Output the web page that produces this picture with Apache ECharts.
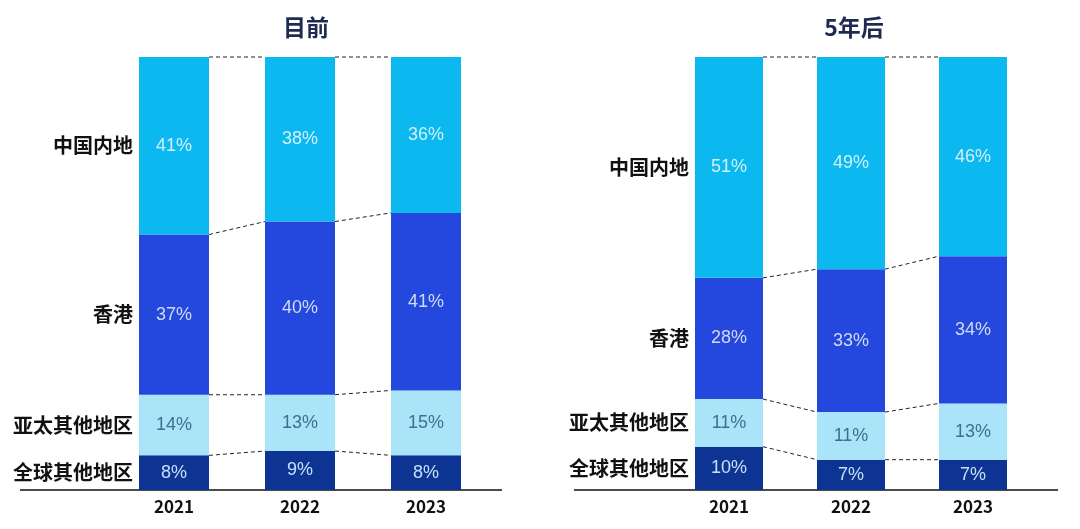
<!DOCTYPE html>
<html>
<head>
<meta charset="utf-8">
<script src="https://cdn.jsdelivr.net/npm/echarts@6/dist/echarts.min.js"></script>
<style>
html,body{margin:0;padding:0;background:#fff;}
#c{width:1080px;height:529px;}
</style>
</head>
<body>
<div id="c"></div>
<script>
// ---- data ----
const years = ['2021', '2022', '2023'];
const regions = ['全球其他地区', '亚太其他地区', '香港', '中国内地']; // bottom -> top
const nowGlobal = [8, 9, 8];
const nowAPAC = [14, 13, 15];
const nowHK = [37, 40, 41];
const nowMainland = [41, 38, 36];
const futGlobal = [10, 7, 7];
const futAPAC = [11, 11, 13];
const futHK = [28, 33, 34];
const futMainland = [51, 49, 46];
const titles = ['目前', '5年后'];

const colors = ['#0d3393', '#a9e4f8', '#2447dd', '#0bb8ef'];
const labelColors = ['#c6e0f8', '#3f6f92', '#cfdcf7', '#d2f0fc'];
const FONT = '"Noto Sans CJK SC", "Noto Sans", sans-serif';

const charts = [
  { vals: [nowGlobal, nowAPAC, nowHK, nowMainland], left: 111, width: 378, bw: 70, title: titles[0], titleX: 301, axisFrom: 20, axisTo: 502 },
  { vals: [futGlobal, futAPAC, futHK, futMainland], left: 668, width: 366, bw: 68, title: titles[1], titleX: 849, axisFrom: 574, axisTo: 1058 }
];

const chart = echarts.init(document.getElementById('c'));
const option = {
  animation: false,
  title: [], grid: [], xAxis: [], yAxis: [], series: [], graphic: []
};

charts.forEach((c, g) => {
  option.title.push({
    text: c.title, left: c.titleX, top: 11, textAlign: 'center',
    textStyle: { fontFamily: FONT, fontSize: 23, fontWeight: 'bold', color: '#1c2b4f' }
  });
  option.grid.push({ left: c.left, width: c.width, top: 57, bottom: 39 });
  option.xAxis.push({
    type: 'category', gridIndex: g, data: years,
    axisLine: { show: false }, axisTick: { show: false },
    axisLabel: { margin: 8, fontFamily: FONT, fontSize: 17, fontWeight: 'bold', color: '#111' }
  });
  option.yAxis.push({ type: 'value', gridIndex: g, min: 0, max: 100, show: false, splitLine: { show: false } });

  c.vals.forEach((arr, k) => {
    option.series.push({
      type: 'bar', name: regions[k], xAxisIndex: g, yAxisIndex: g, stack: 's' + g,
      barWidth: c.bw, data: arr,
      itemStyle: { color: colors[k] },
      label: {
        show: true, position: 'inside', formatter: '{c}%',
        fontFamily: '"Liberation Sans", sans-serif', fontSize: 18, color: labelColors[k]
      }
    });
  });
  // category name labels beside the first bar
  c.vals.forEach((arr, k) => {
    option.series.push({
      type: 'bar', name: regions[k], xAxisIndex: g, yAxisIndex: g, stack: 'l' + g,
      barWidth: c.bw, barGap: '-100%', data: arr, silent: true,
      itemStyle: { color: 'rgba(0,0,0,0)' },
      label: {
        show: true, position: 'left', distance: 6,
        formatter: p => p.dataIndex === 0 ? p.seriesName : '',
        fontFamily: FONT, fontSize: 20, fontWeight: 'bold', color: '#111'
      }
    });
  });
  // dashed connector lines
  const cum = years.map((_, i) => {
    let s = 0; return c.vals.map(a => (s += a[i]));
  });
  const conn = [];
  for (let i = 0; i < years.length - 1; i++) {
    for (let k = 0; k < regions.length; k++) conn.push([i, cum[i][k], cum[i + 1][k]]);
  }
  option.series.push({
    type: 'custom', xAxisIndex: g, yAxisIndex: g, silent: true, z: 10,
    data: conn,
    renderItem: (params, api) => {
      const i = api.value(0);
      const p1 = api.coord([i, api.value(1)]);
      const p2 = api.coord([i + 1, api.value(2)]);
      return {
        type: 'line',
        shape: { x1: p1[0] + c.bw / 2, y1: p1[1], x2: p2[0] - c.bw / 2, y2: p2[1] },
        style: { stroke: '#222', lineWidth: 1, lineDash: [4, 3] }
      };
    }
  });
  option.graphic.push({
    type: 'line', shape: { x1: c.axisFrom, y1: 490, x2: c.axisTo, y2: 490 },
    style: { stroke: '#111', lineWidth: 1.5 }
  });
});

chart.setOption(option);
</script>
</body>
</html>
